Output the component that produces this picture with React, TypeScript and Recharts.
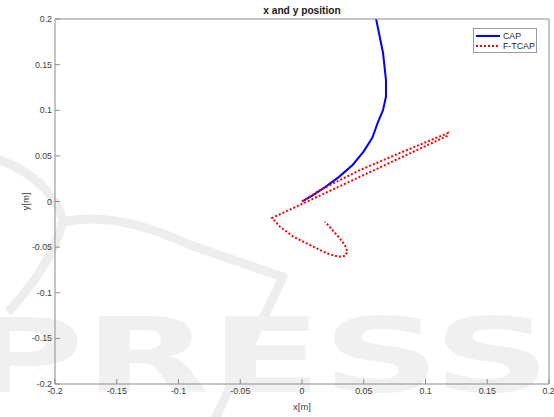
import React from 'react';
import { LineChart, Line, XAxis, YAxis, Legend } from 'recharts';

// CAP trajectory (m)
const capX = [0, 0.009, 0.019, 0.03, 0.041, 0.05, 0.057, 0.0615, 0.0656, 0.068, 0.068, 0.0656, 0.06, 0.056];
const capY = [0, 0.007, 0.016, 0.027, 0.04, 0.055, 0.07, 0.087, 0.1, 0.115, 0.133, 0.163, 0.2, 0.22];

// F-TCAP trajectory (m): out to the far corner, back past the origin, then the hook below
const ftcapX = [0, 0.0146, 0.047, 0.0794, 0.118, 0.1174, -0.0243, -0.0178, -0.007, 0.0065, 0.02, 0.0294, 0.0348, 0.0367, 0.0348, 0.0294, 0.0186];
const ftcapY = [0, 0.0126, 0.0345, 0.0532, 0.075, 0.0718, -0.0181, -0.0276, -0.0386, -0.0477, -0.0568, -0.0605, -0.0597, -0.0551, -0.0477, -0.0386, -0.0221];

const axisTicks = [-0.2, -0.15, -0.1, -0.05, 0, 0.05, 0.1, 0.15, 0.2];
const seriesNames = ['CAP', 'F-TCAP'];
const seriesColors = ['#0000ff', '#ff0000'];

const capData = capX.map((x, i) => ({ x, y: capY[i] }));
const ftcapData = ftcapX.map((x, i) => ({ x, y: ftcapY[i] }));

const FONT = '"Liberation Sans", Arial, Helvetica, sans-serif';
const AXIS_COLOR = '#8c8c8c';
const TEXT_COLOR = '#404040';
const DOTTED = '2 2';
const tickStyle = { fontSize: 8.8, fill: TEXT_COLOR, fontFamily: FONT };

const fmt = (v: number) => String(v);

const renderLegend = () => (
  <div
    style={{
      width: 62,
      height: 23,
      border: '1px solid #9a9a9a',
      background: '#fff',
      fontFamily: FONT,
      fontSize: 8.8,
      color: '#262626',
      boxSizing: 'content-box',
    }}
  >
    {seriesNames.map((name, i) => (
      <div key={name} style={{ display: 'flex', alignItems: 'center', height: 10, marginTop: i === 0 ? 2 : 0 }}>
        <svg width={28} height={10}>
          <line
            x1={2}
            x2={26}
            y1={5}
            y2={5}
            stroke={seriesColors[i]}
            strokeWidth={2}
            strokeDasharray={i === 1 ? DOTTED : undefined}
          />
        </svg>
        <span style={{ marginLeft: 1 }}>{name}</span>
      </div>
    ))}
  </div>
);

const YLabel = (props: any) => {
  const vb = props.viewBox || { x: 0, y: 0, width: 55, height: 0 };
  const cx = vb.x + 25;
  const cy = vb.y + vb.height / 2;
  return (
    <text
      x={cx}
      y={cy}
      transform={`rotate(-90 ${cx} ${cy})`}
      textAnchor="middle"
      dominantBaseline="central"
      fontSize={9.5}
      fill={TEXT_COLOR}
      fontFamily={FONT}
    >
      y[m]
    </text>
  );
};

// faint publisher watermark behind the axes
const Watermark = () => (
  <svg width={554} height={417} style={{ position: 'absolute', left: 0, top: 0 }}>
    <g fill="none" stroke="#ededed" strokeWidth={9} strokeLinejoin="round">
      <path d="M -5 158 Q 50 178 63 220 Q 52 265 8 312" />
      <path d="M 63 222 Q 115 210 190 245 L 283 277 L 212 425" />
    </g>
    <text
      x={-36}
      y={392}
      textLength={587}
      lengthAdjust="spacingAndGlyphs"
      fontSize={103}
      fontWeight="bold"
      fontFamily='"DejaVu Sans", sans-serif'
      fill="#f0f0f0"
    >
      PRESS
    </text>
  </svg>
);

export default function App() {
  return (
    <div style={{ position: 'absolute', left: 0, top: 0, width: 554, height: 417, background: '#fff', overflow: 'hidden' }}>
      <Watermark />
      <div
        style={{
          position: 'absolute',
          left: 55,
          top: 5,
          width: 494,
          textAlign: 'center',
          fontFamily: FONT,
          fontWeight: 'bold',
          fontSize: 10.2,
          color: '#1a1a1a',
          lineHeight: '12px',
        }}
      >
        x and y position
      </div>
      <LineChart
        width={554}
        height={417}
        margin={{ top: 18, right: 4, bottom: 0, left: 0 }}
        style={{ position: 'absolute', left: 0, top: 0 }}
      >
        <XAxis
          type="number"
          dataKey="x"
          domain={[-0.2, 0.2]}
          ticks={axisTicks}
          allowDataOverflow
          height={33}
          tickSize={-5}
          tickMargin={9}
          tickFormatter={fmt}
          tick={tickStyle}
          stroke={AXIS_COLOR}
          label={{ value: 'x[m]', position: 'insideBottom', offset: 7, fontSize: 9.5, fill: TEXT_COLOR, fontFamily: FONT }}
        />
        {/* box edges: top and right axes with inward ticks, no labels */}
        <XAxis
          xAxisId="top"
          orientation="top"
          type="number"
          dataKey="x"
          domain={[-0.2, 0.2]}
          ticks={axisTicks}
          allowDataOverflow
          height={1}
          tickSize={-5}
          tick={false}
          stroke={AXIS_COLOR}
        />
        <YAxis
          type="number"
          domain={[-0.2, 0.2]}
          ticks={axisTicks}
          allowDataOverflow
          width={55}
          tickSize={-5}
          tickMargin={8}
          tickFormatter={fmt}
          tick={tickStyle}
          stroke={AXIS_COLOR}
          label={{ content: YLabel }}
        />
        <YAxis
          yAxisId="right"
          orientation="right"
          type="number"
          domain={[-0.2, 0.2]}
          ticks={axisTicks}
          allowDataOverflow
          width={1}
          tickSize={-5}
          tick={false}
          stroke={AXIS_COLOR}
        />
        <Legend
          layout="vertical"
          align="center"
          verticalAlign="middle"
          content={renderLegend}
          wrapperStyle={{ position: 'absolute', left: 473, top: 28, width: 64 }}
        />
        {/* invisible series that keeps the top/right axes attached */}
        <Line
          data={capData}
          xAxisId="top"
          yAxisId="right"
          dataKey="y"
          stroke="none"
          dot={false}
          legendType="none"
          isAnimationActive={false}
        />
        <Line
          data={capData}
          dataKey="y"
          name="CAP"
          type="linear"
          stroke={seriesColors[0]}
          strokeWidth={2}
          dot={false}
          isAnimationActive={false}
        />
        <Line
          data={ftcapData}
          dataKey="y"
          name="F-TCAP"
          type="linear"
          stroke={seriesColors[1]}
          strokeWidth={2}
          strokeDasharray={DOTTED}
          dot={false}
          isAnimationActive={false}
        />
      </LineChart>
    </div>
  );
}
